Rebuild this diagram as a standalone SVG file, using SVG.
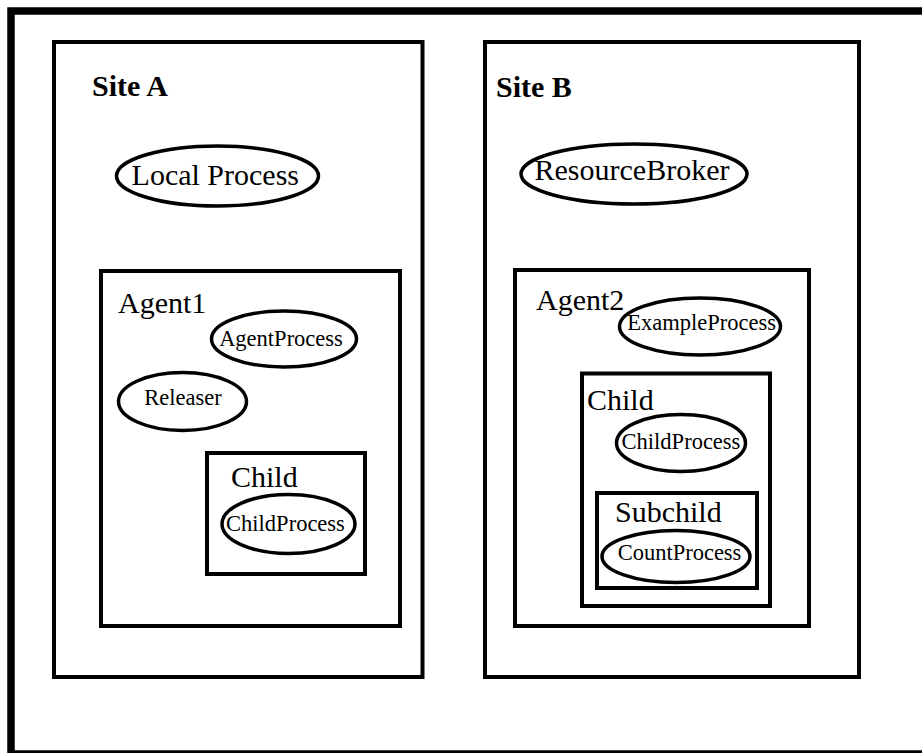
<svg xmlns="http://www.w3.org/2000/svg" width="922" height="753" viewBox="0 0 922 753">
<style>
.box{fill:none;stroke:#000;stroke-width:4}
.ell{fill:#fff;stroke:#000;stroke-width:3.5}
.big{font-family:"Liberation Serif","Times New Roman",serif;font-size:30px;fill:#000}
.bold{font-family:"Liberation Serif","Times New Roman",serif;font-size:30px;font-weight:bold;fill:#000}
.sm{font-family:"Liberation Serif","Times New Roman",serif;font-size:22.5px;fill:#000;text-anchor:middle}
.mid{text-anchor:middle}
</style>
<rect width="922" height="753" fill="#fff"/>
<rect x="11" y="11" width="940" height="743" fill="none" stroke="#000" stroke-width="7.5"/>
<g id="siteA">
<rect class="box" x="54" y="42" width="368.5" height="635"/>
<text class="bold" x="92" y="96">Site A</text>
</g>
<g id="localProcess">
<ellipse class="ell" cx="217.5" cy="176" rx="101" ry="30"/>
<text class="big mid" x="215.3" y="185">Local Process</text>
</g>
<g id="agent1">
<rect class="box" x="101" y="271" width="299" height="355"/>
<text class="big" x="118" y="313">Agent1</text>
</g>
<g id="agentProcess">
<ellipse class="ell" cx="284" cy="339" rx="72.5" ry="28"/>
<text class="sm" x="281" y="346">AgentProcess</text>
</g>
<g id="releaser">
<ellipse class="ell" cx="182.5" cy="401.5" rx="64" ry="29"/>
<text class="sm" x="183" y="405">Releaser</text>
</g>
<g id="childA">
<rect class="box" x="207" y="453" width="158" height="121"/>
<text class="big" x="231" y="487">Child</text>
</g>
<g id="childProcessA">
<ellipse class="ell" cx="288.5" cy="524" rx="66.5" ry="29.5"/>
<text class="sm" x="285.5" y="531">ChildProcess</text>
</g>
<g id="siteB">
<rect class="box" x="485" y="42" width="374" height="635"/>
<text class="bold" x="496" y="97">Site B</text>
</g>
<g id="resourceBroker">
<ellipse class="ell" cx="634" cy="174" rx="113" ry="30"/>
<text class="big mid" x="632" y="180">ResourceBroker</text>
</g>
<g id="agent2">
<rect class="box" x="515" y="270" width="294" height="356"/>
<text class="big" x="536" y="310">Agent2</text>
</g>
<g id="exampleProcess">
<ellipse class="ell" cx="700" cy="326.5" rx="80.5" ry="28.5"/>
<text class="sm" x="701.6" y="330">ExampleProcess</text>
</g>
<g id="childB">
<rect class="box" x="582" y="373.5" width="188" height="232.5"/>
<text class="big" x="587" y="410">Child</text>
</g>
<g id="childProcessB">
<ellipse class="ell" cx="681" cy="443" rx="64.5" ry="28.5"/>
<text class="sm" x="681" y="449">ChildProcess</text>
</g>
<g id="subchild">
<rect class="box" x="597" y="493" width="160" height="95"/>
<text class="big" x="615" y="522">Subchild</text>
</g>
<g id="countProcess">
<ellipse class="ell" cx="676" cy="556.5" rx="74" ry="26"/>
<text class="sm" x="679.5" y="560">CountProcess</text>
</g>
<g id="connectors"></g>
</svg>
